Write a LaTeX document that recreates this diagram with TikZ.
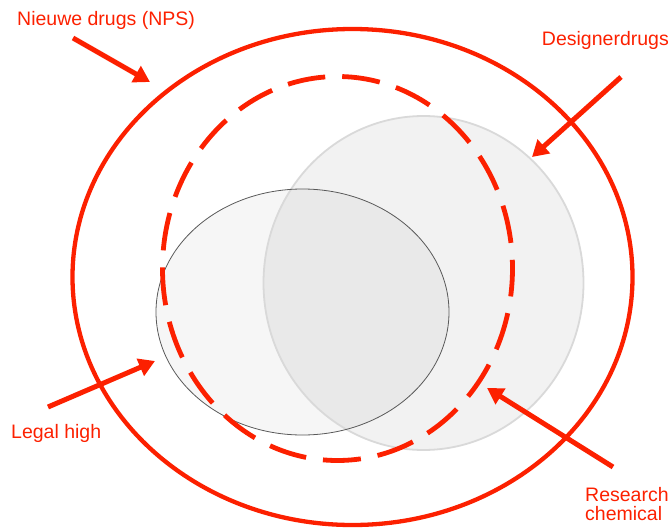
\documentclass[tikz,border=0pt]{standalone}
\usepackage{fontspec}
\setmainfont{Liberation Sans}
\usetikzlibrary{arrows.meta}
\definecolor{nred}{RGB}{252,32,0}
\definecolor{cfill}{RGB}{242,242,242}
\definecolor{cedge}{RGB}{217,217,217}
\begin{document}
\begin{tikzpicture}[x=1pt,y=-1pt,
  lbl/.style={text=nred,font=\fontsize{19.5}{22}\selectfont,inner sep=0pt},
  arr/.style={draw=nred,line width=5pt,-{Triangle[length=16pt,width=18pt]}},
  redline/.style={draw=nred,line width=4.3pt}]
\useasboundingbox (0,0) rectangle (672,530);
% designerdrugs circle
\fill[cfill] (423.5,283) ellipse [x radius=160,y radius=167];
% legal high ellipse
\fill[black,opacity=0.035] (302.5,312) ellipse [x radius=146.5,y radius=123];
\draw[cedge,line width=1.8pt] (423.5,283) ellipse [x radius=160,y radius=167];
\draw[black!65,line width=0.8pt] (302.5,312) ellipse [x radius=146.5,y radius=123];
% outer
\draw[redline] (352.5,277) ellipse [x radius=280,y radius=248];
% dashed
\draw[redline,line width=4.8pt,dash pattern=on 38pt off 17pt,dash phase=10pt] (337.5,268.5) ellipse [x radius=175,y radius=192];
% labels
\node[lbl,anchor=west] (nps) at (17,20) {Nieuwe drugs (NPS)};
\node[lbl,anchor=east] (dd) at (669,40) {Designerdrugs};
\node[lbl,anchor=west] (lh) at (11,433) {Legal high};
\node[lbl,anchor=north west,align=left] (rc) at (585,487) {Research\\[-3pt]chemical};
% arrows
\coordinate (a1s) at (73,38); \coordinate (a1e) at (150,82);
\coordinate (a2s) at (621,77); \coordinate (a2e) at (532,157);
\coordinate (a3s) at (48,407); \coordinate (a3e) at (155,361);
\coordinate (a4s) at (613,467); \coordinate (a4e) at (487,388);
\draw[arr] (a1s) -- (a1e);
\draw[arr] (a2s) -- (a2e);
\draw[arr] (a3s) -- (a3e);
\draw[arr] (a4s) -- (a4e);
\end{tikzpicture}
\end{document}
